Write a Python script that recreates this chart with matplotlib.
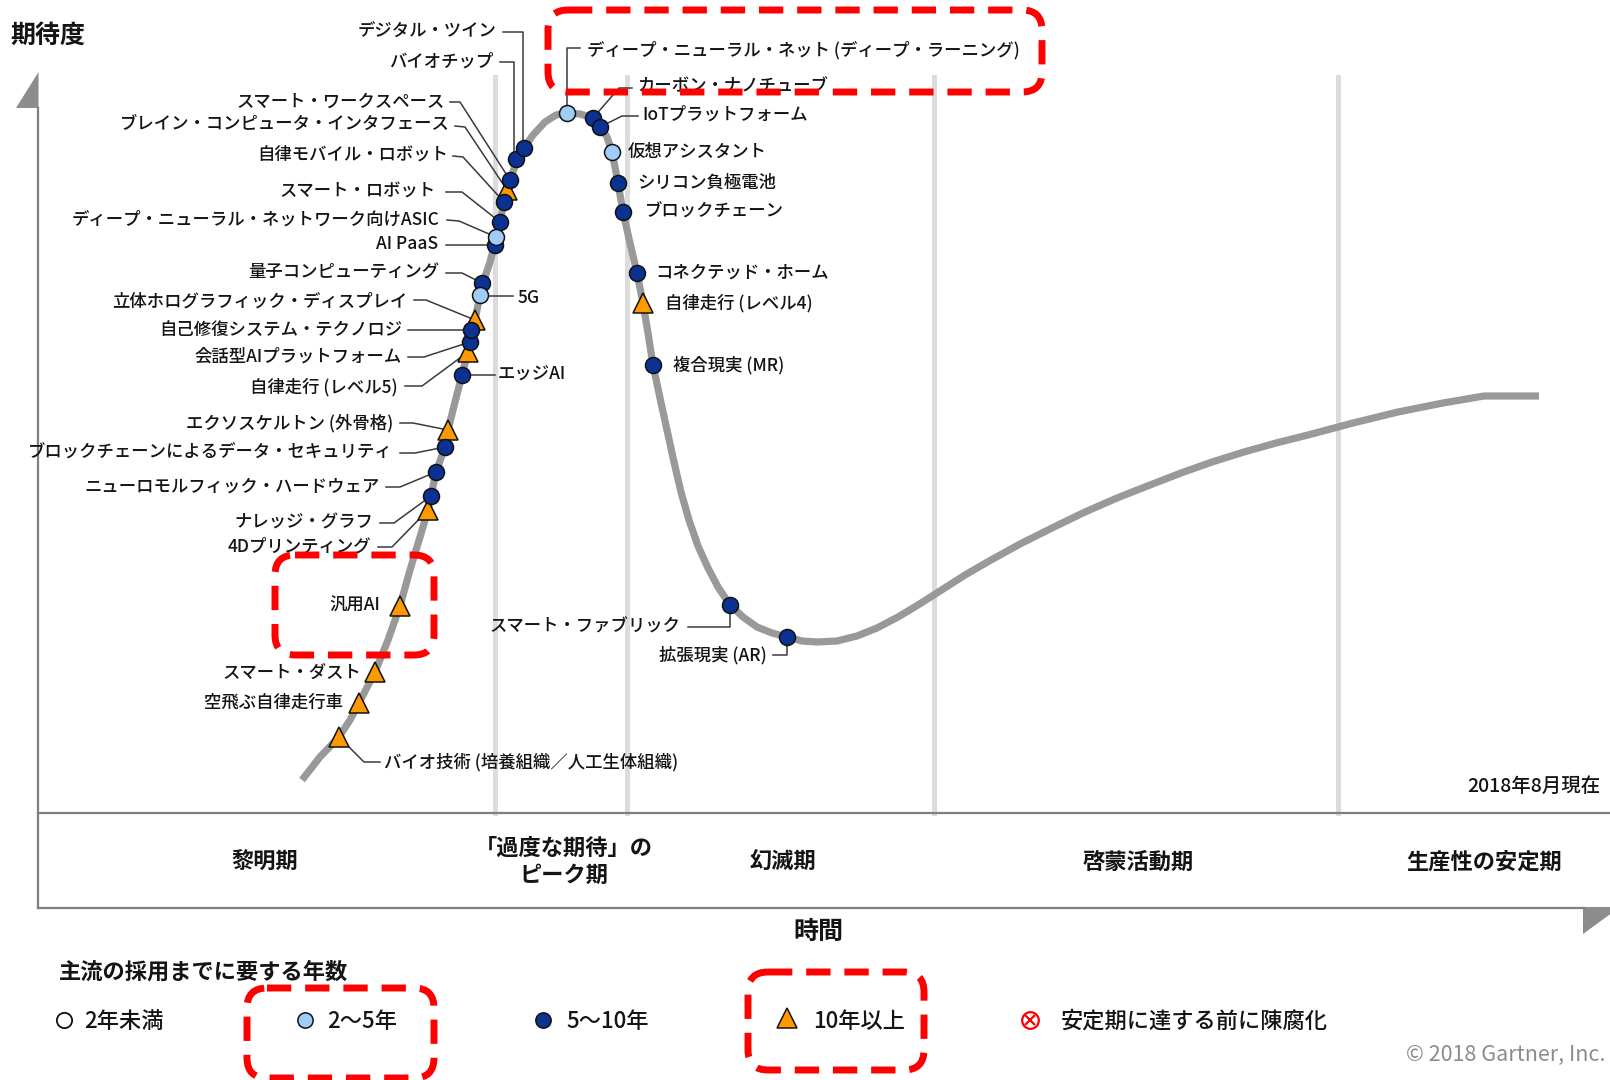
import matplotlib
matplotlib.use("Agg")
import matplotlib.pyplot as plt
from matplotlib.patches import Polygon, FancyBboxPatch

plt.rcParams['font.family'] = ['Noto Sans CJK JP', 'DejaVu Sans']

# hype curve (x = time, y = expectation, picture pixels)
curve_x = [302, 320, 339, 350, 359, 375, 388, 400, 410, 420, 428, 431, 436, 445, 448, 455,
           462, 468, 471, 475, 480, 483, 490, 495, 500, 504, 508, 512, 517, 524, 533, 545,
           556, 567, 580, 593, 600, 607, 612, 615, 618, 623, 630, 637, 643, 648, 653, 660,
           667, 674, 681, 689, 698, 708, 718, 730, 743, 757, 772, 787, 802, 817, 837, 857,
           877, 898, 918, 940, 965, 991, 1020, 1054, 1085, 1117, 1150, 1181, 1212, 1244,
           1276, 1308, 1353, 1398, 1443, 1484, 1539]
curve_y = [780, 757, 737, 720, 703, 672, 640, 606, 570, 537, 510, 496, 472, 447, 430, 402,
           375, 352, 335, 320, 295, 283, 262, 243, 222, 202, 188, 175, 160, 148, 135, 122,
           115, 113, 114, 118, 126, 137, 152, 167, 183, 212, 243, 273, 303, 333, 365, 398,
           430, 462, 492, 520, 546, 568, 587, 605, 617, 627, 633, 637, 641, 642, 641, 636,
           628, 617, 605, 591, 575, 560, 544, 527, 512, 498, 485, 473, 462, 452,
           443, 435, 423, 412, 403, 396, 396]

names = ['バイオ技術 (培養組織／人工生体組織)', '空飛ぶ自律走行車', 'スマート・ダスト', '汎用AI',
         '4Dプリンティング', 'ナレッジ・グラフ', 'ニューロモルフィック・ハードウェア',
         'ブロックチェーンによるデータ・セキュリティ', 'エクソスケルトン (外骨格)', 'エッジAI',
         '自律走行 (レベル5)', '会話型AIプラットフォーム', '自己修復システム・テクノロジ',
         '立体ホログラフィック・ディスプレイ', '5G', '量子コンピューティング', 'AI PaaS',
         'ディープ・ニューラル・ネットワーク向けASIC', 'スマート・ロボット', '自律モバイル・ロボット',
         'ブレイン・コンピュータ・インタフェース', 'スマート・ワークスペース', 'バイオチップ',
         'デジタル・ツイン', 'ディープ・ニューラル・ネット (ディープ・ラーニング)',
         'カーボン・ナノチューブ', 'IoTプラットフォーム', '仮想アシスタント', 'シリコン負極電池',
         'ブロックチェーン', 'コネクテッド・ホーム', '自律走行 (レベル4)', '複合現実 (MR)',
         'スマート・ファブリック', '拡張現実 (AR)']
tech_x = [339, 359, 375, 400, 428, 431, 436, 445, 448, 462, 468, 470, 471, 475, 480, 482, 495,
          496, 500, 504, 507, 510, 516, 524, 567, 593, 600, 612, 618, 623, 637, 643, 653, 730, 787]
tech_y = [737, 703, 672, 606, 510, 496, 472, 447, 430, 375, 352, 342, 330, 320, 295, 283, 245,
          237, 222, 202, 190, 180, 159, 148, 113, 118, 127, 152, 183, 212, 273, 303, 365, 605, 637]
# years to mainstream adoption: '2-5', '5-10', '10+'
tech_years = ['10+', '10+', '10+', '10+', '10+', '5-10', '5-10', '5-10', '10+', '5-10',
              '10+', '5-10', '5-10', '10+', '2-5', '5-10', '5-10', '2-5', '5-10', '5-10',
              '10+', '5-10', '5-10', '5-10', '2-5', '5-10', '5-10', '2-5', '5-10', '5-10',
              '5-10', '10+', '5-10', '5-10', '5-10']

phase_labels = ['黎明期', '「過度な期待」の\nピーク期', '幻滅期', '啓蒙活動期', '生産性の安定期']
legend_labels = ['2年未満', '2～5年', '5～10年', '10年以上', '安定期に達する前に陳腐化']

# label placement: text x, text y, alignment, leader line
label_layout = [
    (384, 762, 'left', [(339, 737), (364, 762), (380, 762)]),
    (343, 703, 'right', None),
    (361, 673, 'right', None),
    (380, 606, 'right', None),
    (371, 547, 'right', [(378, 547), (392, 547), (428, 510)]),
    (373, 523, 'right', [(380, 523), (394, 523), (431, 496)]),
    (380, 487, 'right', [(386, 487), (400, 487), (436, 472)]),
    (393, 453, 'right', [(400, 453), (415, 453), (445, 447)]),
    (393, 423, 'right', [(400, 423), (413, 423), (448, 430)]),
    (498, 375, 'left', [(462, 375), (495, 375)]),
    (398, 387, 'right', [(405, 386), (422, 386), (468, 352)]),
    (402, 357, 'right', [(408, 357), (424, 357), (470, 342)]),
    (402, 330, 'right', [(408, 330), (471, 330)]),
    (407, 302, 'right', [(414, 300), (426, 300), (475, 320)]),
    (518, 298, 'left', [(480, 296), (513, 296)]),
    (439, 273, 'right', [(446, 273), (462, 273), (482, 283)]),
    (438, 244, 'right', [(446, 245), (495, 245)]),
    (439, 220, 'right', [(447, 220), (459, 221), (496, 237)]),
    (436, 192, 'right', [(446, 192), (462, 192), (500, 222)]),
    (448, 155, 'right', [(453, 156), (463, 157), (504, 202)]),
    (450, 125, 'right', [(455, 126), (465, 127), (507, 190)]),
    (445, 102, 'right', [(450, 102), (460, 102), (510, 180)]),
    (493, 62, 'right', [(500, 62), (514, 62), (514, 159)]),
    (496, 32, 'right', [(503, 32), (523, 32), (523, 148)]),
    (587, 50, 'left', [(567, 113), (567, 48), (580, 48)]),
    (637, 86, 'left', [(593, 118), (619, 88), (632, 88)]),
    (642, 115, 'left', [(600, 127), (622, 116), (638, 116)]),
    (628, 152, 'left', None),
    (637, 183, 'left', None),
    (645, 212, 'left', None),
    (655, 273, 'left', None),
    (665, 303, 'left', None),
    (673, 365, 'left', None),
    (680, 627, 'right', [(730, 605), (730, 627), (688, 627)]),
    (767, 655, 'right', [(787, 637), (787, 655), (773, 655)]),
]

TXT = '#141414'
DARK = '#0b3192'
LIGHT = '#9fcdf7'
ORANGE = '#ff9900'
styles = {
    '2-5': dict(marker='o', ms=11.5, mfc=LIGHT),
    '5-10': dict(marker='o', ms=11.5, mfc=DARK),
    '10+': dict(marker='^', ms=15, mfc=ORANGE),
}

fig = plt.figure(figsize=(16.1, 10.8), dpi=100)
ax = fig.add_axes([0, 0, 1, 1])
ax.set_xlim(0, 1610)
ax.set_ylim(1080, 0)
ax.axis('off')

# frame: axis lines, phase band and arrows
ax.plot([37.5, 37.5], [108, 908], color='#7f7f7f', lw=1.6)
ax.plot([37.5, 1610], [813, 813], color='#7f7f7f', lw=1.6)
ax.plot([37.5, 1585], [908, 908], color='#7f7f7f', lw=1.6)
ax.add_patch(Polygon([(16, 108), (38.5, 72), (38.5, 108)], closed=True, color='#8c8c8c', lw=0))
ax.add_patch(Polygon([(1583, 907), (1620, 907), (1583, 934)], closed=True, color='#8c8c8c', lw=0))
for px in [495, 627, 934, 1338]:
    ax.plot([px, px], [77, 813], color='#dcdcdc', lw=3.6, zorder=1)

ax.plot(curve_x, curve_y, color='#999999', lw=5.2, solid_capstyle='butt',
        solid_joinstyle='round', zorder=2)

# leaders and labels
for name, lay in zip(names, label_layout):
    lx, ly, ha, leader = lay
    if leader:
        xs, ys = zip(*leader)
        ax.plot(xs, ys, color='#3a3a3a', lw=1.1, zorder=3)
    ax.text(lx, ly, name, ha=ha, va='center', fontsize=12.5, fontweight='medium',
            color=TXT, zorder=4)

# markers (triangles underneath circles)
for kind in ['10+', '5-10', '2-5']:
    for x, y, k in zip(tech_x, tech_y, tech_years):
        if k == kind:
            ax.plot(x, y, linestyle='none', mec='#111111', mew=1.1, zorder=5, **styles[k])

ax.text(48, 36, '期待度', ha='center', va='center', fontsize=18, fontweight='bold', color=TXT)
ax.text(818, 932, '時間', ha='center', va='center', fontsize=18, fontweight='bold', color=TXT)
ax.text(1600, 786, '2018年8月現在', ha='right', va='center', fontsize=14,
        fontweight='medium', color=TXT)

phase_x = [265, 564, 783, 1138, 1484]
for px, lab in zip(phase_x, phase_labels):
    ax.text(px, 862, lab, ha='center', va='center', fontsize=16, fontweight='bold',
            color=TXT, linespacing=1.25)

# legend
ax.text(59, 972, '主流の採用までに要する年数', ha='left', va='center', fontsize=16,
        fontweight='bold', color=TXT)
leg_x = [64, 305, 543, 787, 1030]
leg_tx = [84, 327, 566, 813, 1061]
ax.plot(leg_x[0], 1020, marker='o', ms=11, mfc='white', mec='#111111', mew=1.3)
ax.plot(leg_x[1], 1020, marker='o', ms=11, mfc=LIGHT, mec='#111111', mew=1.1)
ax.plot(leg_x[2], 1020, marker='o', ms=11, mfc=DARK, mec='#111111', mew=1.1)
ax.plot(leg_x[3], 1018, marker='^', ms=15, mfc=ORANGE, mec='#111111', mew=1.1)
ax.plot(leg_x[4], 1020, marker='o', ms=12, mfc='none', mec='#ff0000', mew=1.6)
ax.plot(leg_x[4], 1020, marker='x', ms=7, mec='#ff0000', mew=1.6)
for tx, lab in zip(leg_tx, legend_labels):
    ax.text(tx, 1021, lab, ha='left', va='center', fontsize=16, fontweight='medium', color=TXT)
ax.text(1605, 1055, '© 2018 Gartner, Inc.', ha='right', va='center', fontsize=15.5,
        color='#8c8c8c')

# red dashed highlight boxes
boxes = [(548, 10, 494, 82), (275, 555, 159, 100), (247, 988, 187, 90), (748, 972, 176, 98)]
for bx, by, bw, bh in boxes:
    ax.add_patch(FancyBboxPatch((bx, by), bw, bh, boxstyle='round,pad=0,rounding_size=20',
                                fill=False, ec='#ff0000', lw=5, linestyle=(0, (3.5, 2)),
                                zorder=10))

fig.savefig('out.png', dpi=100)
